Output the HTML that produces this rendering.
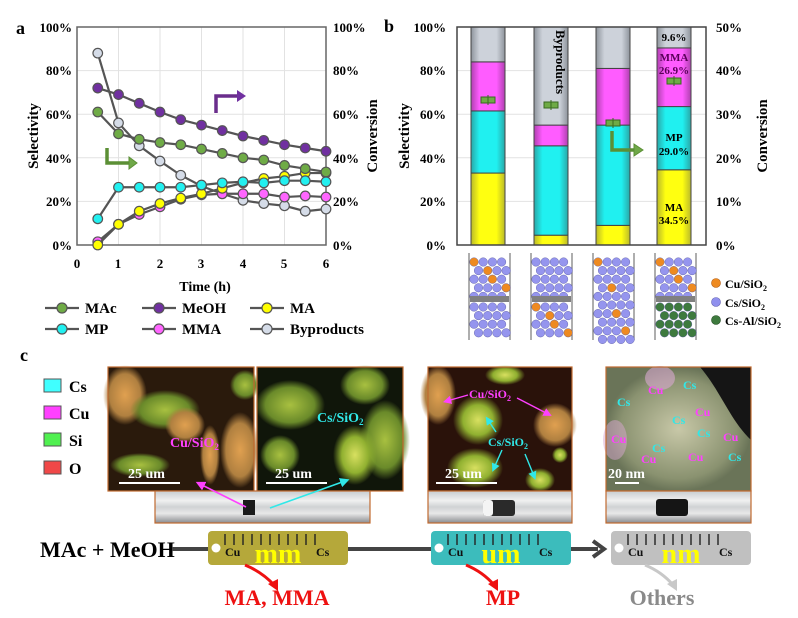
<!DOCTYPE html>
<html><head><meta charset="utf-8">
<style>
html,body{margin:0;padding:0;background:#fff;}
svg{display:block;font-family:"Liberation Serif",serif;font-weight:bold;}
</style></head>
<body>
<svg id="s" width="798" height="618" viewBox="0 0 798 618" xmlns="http://www.w3.org/2000/svg">
<defs>
<linearGradient id="gy" x1="0" x2="1"><stop offset="0" stop-color="#b9b92a"/><stop offset=".25" stop-color="#ffff10"/><stop offset=".75" stop-color="#ffff10"/><stop offset="1" stop-color="#b9b92a"/></linearGradient>
<linearGradient id="gc" x1="0" x2="1"><stop offset="0" stop-color="#2aa7a7"/><stop offset=".25" stop-color="#20f0f0"/><stop offset=".75" stop-color="#20f0f0"/><stop offset="1" stop-color="#2aa7a7"/></linearGradient>
<linearGradient id="gm" x1="0" x2="1"><stop offset="0" stop-color="#b040b0"/><stop offset=".25" stop-color="#ff5cff"/><stop offset=".75" stop-color="#ff5cff"/><stop offset="1" stop-color="#b040b0"/></linearGradient>
<linearGradient id="gg" x1="0" x2="1"><stop offset="0" stop-color="#8e949c"/><stop offset=".25" stop-color="#cdd2da"/><stop offset=".75" stop-color="#cdd2da"/><stop offset="1" stop-color="#8e949c"/></linearGradient>
<linearGradient id="tube" x1="0" y1="0" x2="0" y2="1"><stop offset="0" stop-color="#c8ccd0"/><stop offset=".3" stop-color="#f0f0f0"/><stop offset=".5" stop-color="#d0d2d4"/><stop offset=".7" stop-color="#e8e8e8"/><stop offset="1" stop-color="#8a8c90"/></linearGradient>
<radialGradient id="b1"><stop offset="0" stop-color="#e0a050"/><stop offset=".7" stop-color="#b08040"/><stop offset="1" stop-color="#b08040" stop-opacity="0"/></radialGradient>
<radialGradient id="b2"><stop offset="0" stop-color="#a8c040"/><stop offset=".7" stop-color="#6a8a2a"/><stop offset="1" stop-color="#6a8a2a" stop-opacity="0"/></radialGradient>
<radialGradient id="b3"><stop offset="0" stop-color="#d8e060"/><stop offset=".6" stop-color="#90b030"/><stop offset="1" stop-color="#90b030" stop-opacity="0"/></radialGradient>
<radialGradient id="b4"><stop offset="0" stop-color="#c8c8a8"/><stop offset=".8" stop-color="#8a9270"/><stop offset="1" stop-color="#6a7458"/></radialGradient>
<marker id="ah" markerWidth="6" markerHeight="6" refX="3" refY="3" orient="auto"><path d="M0,0 L6,3 L0,6 z" fill="context-stroke"/></marker>
</defs>

<!-- ========== Panel a ========== -->
<text x="16" y="34" font-size="18">a</text>
<g id="agrid" stroke="#e2e2e2" stroke-width="1"></g>
<rect x="77" y="27" width="249" height="218" fill="none" stroke="#666" stroke-width="1.5"/>
<g font-size="13" text-anchor="end">
<text x="72" y="32">100%</text><text x="72" y="75">80%</text><text x="72" y="119">60%</text><text x="72" y="163">40%</text><text x="72" y="206">20%</text><text x="72" y="250">0%</text>
</g>
<g font-size="13">
<text x="333" y="32">100%</text><text x="333" y="75">80%</text><text x="333" y="119">60%</text><text x="333" y="163">40%</text><text x="333" y="206">20%</text><text x="333" y="250">0%</text>
</g>
<g font-size="13" text-anchor="middle">
<text x="77" y="268">0</text><text x="118" y="268">1</text><text x="160" y="268">2</text><text x="201" y="268">3</text><text x="243" y="268">4</text><text x="284" y="268">5</text><text x="326" y="268">6</text>
</g>
<text x="205" y="291" font-size="14" text-anchor="middle">Time (h)</text>
<text transform="translate(38,136) rotate(-90)" font-size="15" text-anchor="middle">Selectivity</text>
<text transform="translate(377,136) rotate(-90)" font-size="15" text-anchor="middle">Conversion</text>
<g id="aseries"></g>
<path d="M107,148 V163 H130" fill="none" stroke="#5b8f35" stroke-width="3.5"/><path d="M129,157 L137,163 L129,169 z" fill="#6fa848" stroke="#5b8f35"/>
<path d="M216,113 V96 H238" fill="none" stroke="#6a2d8c" stroke-width="3.5"/><path d="M237,90 L246,96 L237,102 z" fill="#7030a0"/>
<g id="aleg" font-size="15"></g>

<!-- ========== Panel b ========== -->
<text x="384" y="32" font-size="18">b</text>
<g stroke="#e2e2e2"><line x1="457" x2="706" y1="70.6" y2="70.6"/><line x1="457" x2="706" y1="114.2" y2="114.2"/><line x1="457" x2="706" y1="157.8" y2="157.8"/><line x1="457" x2="706" y1="201.4" y2="201.4"/></g>
<g id="bars" stroke="#444" stroke-width="1"></g>
<rect x="457" y="27" width="249" height="218" fill="none" stroke="#444" stroke-width="1.5"/>
<g font-size="13" text-anchor="end">
<text x="446" y="32">100%</text><text x="446" y="75">80%</text><text x="446" y="119">60%</text><text x="446" y="163">40%</text><text x="446" y="206">20%</text><text x="446" y="250">0%</text>
</g>
<g font-size="13">
<text x="716" y="32">50%</text><text x="716" y="75">40%</text><text x="716" y="119">30%</text><text x="716" y="163">20%</text><text x="716" y="206">10%</text><text x="716" y="250">0%</text>
</g>
<text transform="translate(409,136) rotate(-90)" font-size="15" text-anchor="middle">Selectivity</text>
<text transform="translate(767,136) rotate(-90)" font-size="15" text-anchor="middle">Conversion</text>
<text transform="translate(556,30) rotate(90)" font-size="13">Byproducts</text>
<g font-size="11" text-anchor="middle">
<text x="674" y="41">9.6%</text>
<text x="674" y="61" fill="#5a005a">MMA</text><text x="674" y="74" fill="#5a005a">26.9%</text>
<text x="674" y="141">MP</text><text x="674" y="155">29.0%</text>
<text x="674" y="211">MA</text><text x="674" y="224">34.5%</text>
</g>
<path d="M612,131 V150 H635" fill="none" stroke="#5b8f35" stroke-width="3.5"/><path d="M634,144 L643,150 L634,156 z" fill="#6fa848" stroke="#5b8f35"/>
<g id="diag"></g>
<g font-size="12">
<circle cx="716" cy="283" r="4.5" fill="#ee8a20" stroke="#b05a10" stroke-width=".6"/><text x="725" y="288">Cu/SiO<tspan font-size="8" dy="3">2</tspan></text>
<circle cx="716" cy="302" r="4.5" fill="#9090ee" stroke="#6060b0" stroke-width=".6"/><text x="725" y="307">Cs/SiO<tspan font-size="8" dy="3">2</tspan></text>
<circle cx="716" cy="320" r="4.5" fill="#3e7a3e" stroke="#1e4a1e" stroke-width=".6"/><text x="725" y="325">Cs-Al/SiO<tspan font-size="8" dy="3">2</tspan></text>
</g>

<!-- ========== Panel c ========== -->
<text x="20" y="361" font-size="18">c</text>
<g font-size="16">
<rect x="44" y="379" width="17" height="13" fill="#40ffff" stroke="#555"/><text x="69" y="392">Cs</text>
<rect x="44" y="406" width="17" height="13" fill="#ff40ff" stroke="#555"/><text x="69" y="419">Cu</text>
<rect x="44" y="433" width="17" height="13" fill="#50f050" stroke="#555"/><text x="69" y="446">Si</text>
<rect x="44" y="461" width="17" height="13" fill="#f04848" stroke="#555"/><text x="69" y="474">O</text>
</g>
<g>
<rect x="108" y="367" width="146" height="124" fill="#2a1a0c"/>
<ellipse cx="125" cy="395" rx="22" ry="30" fill="url(#b1)"/>
<ellipse cx="165" cy="410" rx="35" ry="20" fill="url(#b2)"/>
<ellipse cx="185" cy="425" rx="20" ry="18" fill="url(#b1)"/>
<ellipse cx="240" cy="450" rx="20" ry="38" fill="url(#b1)"/>
<ellipse cx="210" cy="455" rx="10" ry="30" fill="url(#b1)"/>
<ellipse cx="140" cy="465" rx="30" ry="12" fill="url(#b2)"/>
<ellipse cx="245" cy="385" rx="15" ry="15" fill="url(#b2)"/>
<rect x="108" y="367" width="146" height="124" fill="none" stroke="#c06a30" stroke-width="1.2"/>
<text x="170" y="447" font-size="14" fill="#ff40ff">Cu/SiO<tspan font-size="9" dy="3">2</tspan></text>
<text x="128" y="478" font-size="14" fill="#fff">25 um</text>
<line x1="119" x2="180" y1="483" y2="483" stroke="#fff" stroke-width="2"/>
</g>
<g>
<rect x="257" y="367" width="146" height="124" fill="#10160a"/>
<ellipse cx="290" cy="405" rx="35" ry="25" fill="url(#b2)"/>
<ellipse cx="365" cy="385" rx="25" ry="20" fill="url(#b2)"/>
<ellipse cx="385" cy="440" rx="25" ry="40" fill="url(#b2)"/>
<ellipse cx="355" cy="455" rx="22" ry="30" fill="url(#b3)"/>
<ellipse cx="280" cy="455" rx="20" ry="20" fill="url(#b2)"/>
<rect x="257" y="367" width="146" height="124" fill="none" stroke="#c06a30" stroke-width="1.2"/>
<text x="317" y="422" font-size="14" fill="#30e8e8">Cs/SiO<tspan font-size="9" dy="3">2</tspan></text>
<text x="275" y="478" font-size="14" fill="#fff">25 um</text>
<line x1="266" x2="327" y1="483" y2="483" stroke="#fff" stroke-width="2"/>
</g>
<rect x="155" y="491" width="215" height="32" fill="url(#tube)" stroke="#c06a30" stroke-width="1.2"/>
<rect x="243" y="500" width="12" height="15" fill="#1a1a1a"/>
<line x1="246" y1="507" x2="200" y2="484" stroke="#ff40ff" stroke-width="1.6" marker-end="url(#ah)"/>
<line x1="270" y1="508" x2="345" y2="481" stroke="#30e8e8" stroke-width="1.6" marker-end="url(#ah)"/>
<g>
<rect x="428" y="367" width="144" height="124" fill="#2a120a"/>
<ellipse cx="438" cy="395" rx="18" ry="30" fill="url(#b1)"/>
<ellipse cx="478" cy="420" rx="25" ry="25" fill="url(#b3)"/>
<ellipse cx="555" cy="425" rx="22" ry="22" fill="url(#b1)"/>
<ellipse cx="475" cy="468" rx="28" ry="20" fill="url(#b3)"/>
<ellipse cx="540" cy="480" rx="15" ry="12" fill="url(#b3)"/>
<ellipse cx="505" cy="375" rx="20" ry="10" fill="url(#b3)"/>
<ellipse cx="560" cy="455" rx="8" ry="8" fill="url(#b3)"/>
<rect x="428" y="367" width="144" height="124" fill="none" stroke="#c06a30" stroke-width="1.2"/>
<text x="469" y="398" font-size="12" fill="#ff40ff">Cu/SiO<tspan font-size="8" dy="3">2</tspan></text>
<line x1="468" y1="395" x2="447" y2="401" stroke="#ff40ff" stroke-width="1.4" marker-end="url(#ah)"/>
<line x1="517" y1="398" x2="548" y2="414" stroke="#ff40ff" stroke-width="1.4" marker-end="url(#ah)"/>
<text x="488" y="446" font-size="12" fill="#30e8e8">Cs/SiO<tspan font-size="8" dy="3">2</tspan></text>
<line x1="496" y1="432" x2="488" y2="420" stroke="#30e8e8" stroke-width="1.4" marker-end="url(#ah)"/>
<line x1="502" y1="450" x2="494" y2="468" stroke="#30e8e8" stroke-width="1.4" marker-end="url(#ah)"/>
<line x1="525" y1="454" x2="534" y2="476" stroke="#30e8e8" stroke-width="1.4" marker-end="url(#ah)"/>
<text x="445" y="478" font-size="14" fill="#fff">25 um</text>
<line x1="436" x2="497" y1="483" y2="483" stroke="#fff" stroke-width="2"/>
</g>
<rect x="428" y="491" width="144" height="32" fill="url(#tube)" stroke="#c06a30" stroke-width="1.2"/>
<rect x="483" y="500" width="32" height="16" rx="3" fill="#2a2a2a"/><rect x="483" y="500" width="10" height="16" rx="3" fill="#f4f4f4"/>
<g>
<rect x="606" y="367" width="145" height="124" fill="url(#b4)"/>
<path d="M700,367 H751 V440 C730,420 720,390 700,367z" fill="#151515"/>
<ellipse cx="660" cy="378" rx="15" ry="12" fill="#d8a8d0" opacity=".6"/>
<ellipse cx="615" cy="440" rx="12" ry="20" fill="#d8a8d0" opacity=".5"/>
<rect x="606" y="367" width="145" height="124" fill="none" stroke="#c06a30" stroke-width="1.2"/>
<g font-size="12" fill="#30e8e8"><text x="683" y="389">Cs</text><text x="617" y="406">Cs</text><text x="672" y="424">Cs</text><text x="697" y="437">Cs</text><text x="652" y="452">Cs</text><text x="728" y="461">Cs</text></g>
<g font-size="12" fill="#ff40ff"><text x="648" y="394">Cu</text><text x="695" y="416">Cu</text><text x="611" y="443">Cu</text><text x="723" y="441">Cu</text><text x="641" y="463">Cu</text><text x="688" y="461">Cu</text></g>
<text x="608" y="478" font-size="14" fill="#fff">20 nm</text>
<line x1="615" x2="639" y1="483" y2="483" stroke="#fff" stroke-width="2"/>
</g>
<rect x="606" y="491" width="145" height="32" fill="url(#tube)" stroke="#c06a30" stroke-width="1.2"/>
<rect x="656" y="499" width="32" height="17" rx="3" fill="#151515"/>

<text x="40" y="557" font-size="22">MAc + MeOH</text>
<line x1="172" y1="549" x2="598" y2="549" stroke="#444" stroke-width="4"/>
<path d="M593,541 L604,549 L593,557" fill="none" stroke="#444" stroke-width="4"/>
<g id="rulers"></g>
<path d="M245,565 Q262,572 274,585" fill="none" stroke="#ee1111" stroke-width="3"/><path d="M268,584 L278,591 L278,579 z" fill="#ee1111"/>
<path d="M466,565 Q483,572 494,585" fill="none" stroke="#ee1111" stroke-width="3"/><path d="M488,584 L498,591 L498,579 z" fill="#ee1111"/>
<path d="M645,565 Q662,572 673,585" fill="none" stroke="#c8c8c8" stroke-width="3"/><path d="M667,584 L677,591 L677,579 z" fill="#c8c8c8"/>
<g font-size="22" text-anchor="middle">
<text x="277" y="605" fill="#ee1111">MA, MMA</text>
<text x="503" y="605" fill="#ee1111">MP</text>
<text x="662" y="605" fill="#8a8a8a">Others</text>
</g>
</svg>
<script>
const NS="http://www.w3.org/2000/svg";
function el(p,t,a,txt){const e=document.createElementNS(NS,t);for(const k in a)e.setAttribute(k,a[k]);if(txt!==undefined)e.textContent=txt;p.appendChild(e);return e;}
const ag=document.getElementById('agrid');
for(let i=1;i<6;i++){const x=77+i*41.5;el(ag,'line',{x1:x,x2:x,y1:27,y2:245});}
for(let i=1;i<5;i++){const y=245-i*43.6;el(ag,'line',{x1:77,x2:326,y1:y,y2:y});}
const T=[0.5,1,1.5,2,2.5,3,3.5,4,4.5,5,5.5,6];
const S=[
 ['Byproducts','#d5dce8',[88,56,45.5,38.5,32,27,23.5,20.5,19,18,15.5,16.5]],
 ['MMA','#ff66ff',[1.5,9.5,14,17.5,21,23,23.5,23.5,23.5,22,22.5,22]],
 ['MA','#ffff00',[0,9.5,15.5,19,21.5,23.5,26,28.5,30.5,31.5,33,33]],
 ['MP','#22f0f0',[12,26.5,26.5,26.5,26.5,27.5,28.5,29,28.5,29.5,29.5,29]],
 ['MAc','#6fab46',[61,51,48.5,47,46,44,42,40,39,36.5,35,33.5]],
 ['MeOH','#7030a0',[72,69,65,61,57.5,55,52.5,50,48,46,44.5,43]]
];
const as=document.getElementById('aseries');
S.forEach(s=>{const pts=T.map((t,i)=>[77+t*41.5,245-s[2][i]*2.18]);
 el(as,'polyline',{points:pts.map(p=>p.join(',')).join(' '),fill:'none',stroke:'#555',"stroke-width":2.2});
 pts.forEach(p=>el(as,'circle',{cx:p[0],cy:p[1],r:4.8,fill:s[1],stroke:'#555',"stroke-width":1.2}));});
const lg=document.getElementById('aleg');
const L=[['MAc','#6fab46',45,308],['MeOH','#7030a0',142,308],['MA','#ffff00',250,308],['MP','#22f0f0',45,329],['MMA','#ff66ff',142,329],['Byproducts','#d5dce8',250,329]];
L.forEach(l=>{el(lg,'line',{x1:l[2],x2:l[2]+34,y1:l[3],y2:l[3],stroke:'#555',"stroke-width":2.2});
 el(lg,'circle',{cx:l[2]+17,cy:l[3],r:5,fill:l[1],stroke:'#555',"stroke-width":1.2});
 el(lg,'text',{x:l[2]+40,y:l[3]+5},l[0]);});
const bg=document.getElementById('bars');
const B=[[471,[33,28.5,22.5,16],100],[534,[4.5,41,9.5,45],105],[596,[9,46,26,19],123],[657,[34.5,29,26.9,9.6],81]];
const F=['url(#gy)','url(#gc)','url(#gm)','url(#gg)'];
B.forEach(b=>{let acc=0;b[1].forEach((v,i)=>{const y1=245-(acc+v)*2.18;el(bg,'rect',{x:b[0],y:y1,width:34,height:v*2.18,fill:F[i]});acc+=v;});
 el(bg,'rect',{x:b[0]+10,y:b[2]-3,width:14,height:6,fill:'#6fab46',stroke:'#3a6a20'});
 el(bg,'line',{x1:b[0]+17,x2:b[0]+17,y1:b[2]-5,y2:b[2]+5,stroke:'#3a6a20'});});
const dg=document.getElementById('diag');
const cols=[469,531,593,655];
const PUR='#9595ee',ORA='#ee8a20',GRN='#3e7a3e';
function grid(x0,y0,rows,colorFn){for(let r=0;r<rows;r++){const off=(r%2)?4.5:0;for(let c=0;c<4;c++){const cx=x0+5+off+c*9.2;if(cx>x0+40)continue;el(dg,'circle',{cx:cx,cy:y0+r*8.6,r:4.3,fill:colorFn(r,c),stroke:'#5656a0',"stroke-width":.4});}}}
cols.forEach((x,i)=>{
 el(dg,'line',{x1:x,x2:x,y1:253,y2:340,stroke:'#777',"stroke-width":1.2});
 el(dg,'line',{x1:x+41,x2:x+41,y1:253,y2:340,stroke:'#777',"stroke-width":1.2});
 if(i===2){grid(x,262,10,(r,c)=>((r===0&&c===0)||(r===3&&c===1)||(r===6&&c===2)||(r===8&&c===3))?ORA:PUR);}
 else{
  const top=(r,c)=>(i!==1&&((r===0&&c===0)||(r===1&&c===1)||(r===2&&c===2)||(r===3&&c===3)))?ORA:PUR;
  grid(x,262,5,top);
  el(dg,'rect',{x:x+1,y:296,width:39,height:6,fill:'#808080'});
  const bot=i===3?()=>GRN:(i===1?(r,c)=>((r===0&&c===0)||(r===1&&c===1)||(r===2&&c===2)||(r===3&&c===3))?ORA:PUR:()=>PUR);
  grid(x,307,4,bot);
 }
});
const rg=document.getElementById('rulers');
const R=[[208,'#b5a83a','mm'],[431,'#3cbcbc','um'],[611,'#c0c0c0','nm']];
R.forEach(r=>{const x=r[0];el(rg,'rect',{x:x,y:531,width:140,height:34,rx:4,fill:r[1]});
 for(let k=0;k<11;k++){el(rg,'line',{x1:x+17+k*9,x2:x+17+k*9,y1:534,y2:545,stroke:'#222',"stroke-width":1.4});}
 el(rg,'circle',{cx:x+8,cy:548,r:4.5,fill:'#fff'});
 el(rg,'text',{x:x+17,y:556,"font-size":12,fill:'#111'},'Cu');
 el(rg,'text',{x:x+70,y:563,"font-size":28,fill:'#ffff00',"text-anchor":'middle'},r[2]);
 el(rg,'text',{x:x+108,y:556,"font-size":12,fill:'#111'},'Cs');});
</script>
</body></html>
